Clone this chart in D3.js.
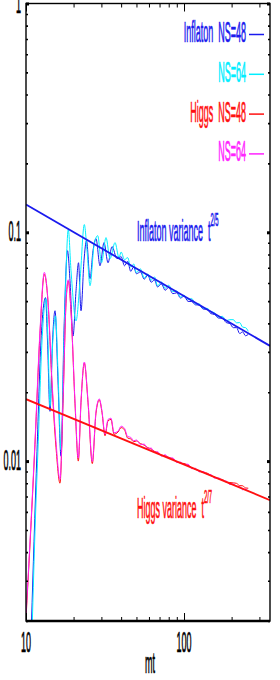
<!DOCTYPE html>
<html>
<head>
<meta charset="utf-8">
<script src="https://cdn.jsdelivr.net/npm/d3@7"></script>
<style>
  body { margin: 0; background: #fff; }
  text { font-family: "Liberation Sans", Arial, sans-serif; }
</style>
</head>
<body>
<div class="chart-container"></div>
<script>
// early oscillations
const tInf48Early = [10.83, 11.24, 11.74, 12.44, 13.29, 13.68, 14.19, 14.72, 15.26, 15.94, 16.65, 17.40, 18.31, 18.99, 19.84, 20.73, 21.49, 22.29, 23.28, 24.15, 25.42, 26.55, 27.73, 29.40, 31.16, 33.04, 35.03, 37.66];
const vInf48Early = [0.00196, 0.00444, 0.0110, 0.0335, 0.0518, 0.0335, 0.0165, 0.0335, 0.0454, 0.0224, 0.0105, 0.0371, 0.0831, 0.0614, 0.0352, 0.0555, 0.0736, 0.0454, 0.0751, 0.0920, 0.0627, 0.0831, 0.0938, 0.0714, 0.0901, 0.0736, 0.0866, 0.0767];
const tInf64Early = [10.96, 11.40, 11.96, 12.63, 13.39, 13.78, 14.19, 14.72, 15.37, 15.94, 16.65, 17.53, 18.52, 19.27, 20.73, 21.97, 23.39, 24.33, 25.42, 26.94, 28.43, 30.05, 32.09, 34.02, 36.59, 38.77];
const vInf64Early = [0.00196, 0.00492, 0.0122, 0.0335, 0.0512, 0.0335, 0.0174, 0.0318, 0.0431, 0.0247, 0.0112, 0.0410, 0.1028, 0.0679, 0.0410, 0.0614, 0.1081, 0.0831, 0.0584, 0.0875, 0.0967, 0.0736, 0.0948, 0.0767, 0.0901, 0.0775];
const tHiggsEarly = [10, 10.6, 11.4, 12.26, 13.06, 13.78, 14.61, 15.48, 16.41, 17.15, 17.92, 18.52, 19.27, 20.42, 21.43, 22.29, 23.39, 24.69, 26.28, 27.73, 29.10, 30.27, 31.62, 33.04, 34.51, 36.06, 38.22];
const vHiggs48Early = [0.00205, 0.00430, 0.0118, 0.0360, 0.0655, 0.0495, 0.0215, 0.0115, 0.00800, 0.0178, 0.0490, 0.0612, 0.0448, 0.0178, 0.0100, 0.0180, 0.0268, 0.0180, 0.00975, 0.0162, 0.0185, 0.0163, 0.0129, 0.0150, 0.0152, 0.0131, 0.0134];
const vHiggs64Early = [0.00213, 0.00444, 0.0122, 0.0371, 0.0668, 0.0502, 0.0224, 0.0122, 0.00831, 0.0183, 0.0502, 0.0620, 0.0454, 0.0183, 0.0103, 0.0183, 0.0271, 0.0183, 0.00997, 0.0165, 0.0187, 0.0165, 0.0131, 0.0152, 0.0154, 0.0133, 0.0135];

// late times, shared time grid
const tLate = [40, 42, 44, 46, 48, 50, 53, 56, 59, 62, 65, 68, 72, 76, 80, 85, 90, 95, 100, 106, 112, 118, 125, 132, 140, 148, 156, 165, 175, 185, 195, 205, 215, 225, 235, 245, 255];
const vInf48Late = [0.0782, 0.0714, 0.0746, 0.0675, 0.0706, 0.0659, 0.0671, 0.0624, 0.0650, 0.0605, 0.0619, 0.0577, 0.0594, 0.0558, 0.0575, 0.0539, 0.0544, 0.0516, 0.0526, 0.0499, 0.0498, 0.0482, 0.0481, 0.0462, 0.0460, 0.0441, 0.0437, 0.0422, 0.0421, 0.0403, 0.0399, 0.0383, 0.0383, 0.0361, 0.0367, 0.0353, 0.0358];
const vInf64Late = [0.0820, 0.0759, 0.0775, 0.0704, 0.0727, 0.0666, 0.0692, 0.0631, 0.0657, 0.0618, 0.0638, 0.0583, 0.0606, 0.0569, 0.0587, 0.0550, 0.0554, 0.0521, 0.0531, 0.0509, 0.0513, 0.0487, 0.0486, 0.0466, 0.0465, 0.0450, 0.0445, 0.0427, 0.0429, 0.0411, 0.0415, 0.0415, 0.0402, 0.0403, 0.0385, 0.0383, 0.0369];
const vHiggs48Late = [0.0140, 0.0137, 0.0126, 0.0125, 0.01215, 0.01224, 0.01193, 0.01174, 0.01145, 0.01129, 0.01103, 0.01089, 0.01061, 0.01055, 0.01040, 0.01022, 0.00995, 0.00980, 0.00976, 0.00960, 0.00935, 0.00921, 0.00906, 0.00892, 0.00886, 0.00864, 0.00851, 0.00837, 0.00831, 0.00810, 0.00806, 0.00803, 0.00799, 0.00781, 0.00780, 0.00763, 0.00761];
const vHiggs64Late = [0.0142, 0.0139, 0.0128, 0.0127, 0.01227, 0.01236, 0.01181, 0.01186, 0.01134, 0.01140, 0.01092, 0.01100, 0.01050, 0.01066, 0.01030, 0.01032, 0.00985, 0.00990, 0.00966, 0.00969, 0.00926, 0.00930, 0.00897, 0.00901, 0.00877, 0.00873, 0.00842, 0.00845, 0.00823, 0.00818, 0.00790, 0.00795, 0.00776, 0.00774, 0.00749, 0.00755, 0.00739];

// power law fits  v = amp * t^expo
const fitInflaton = {amp: 0.332, expo: -2 / 5};
const fitHiggs = {amp: 0.036, expo: -2 / 7};
const fitRange = [10, 350];

const xMajor = [10, 100];
const yMajor = [1, 0.1, 0.01];

const blue = "#1a1aee", cyan = "#00eeff", red = "#ff1010", magenta = "#ff22ff";

const series = [
  {label: "Inflaton  NS=48", color: blue, t: tInf48Early.concat(tLate), v: vInf48Early.concat(vInf48Late)},
  {label: "NS=64", color: cyan, t: tInf64Early.concat(tLate), v: vInf64Early.concat(vInf64Late)},
  {label: "Higgs  NS=48", color: red, t: tHiggsEarly.concat(tLate), v: vHiggs48Early.concat(vHiggs48Late)},
  {label: "NS=64", color: magenta, t: tHiggsEarly.concat(tLate), v: vHiggs64Early.concat(vHiggs64Late)}
];

const width = 280, height = 680;
const plotLeft = 26, plotRight = 270, plotTop = 3.5, plotBottom = 621;
const sq = 0.31;      // gnuplot text is very narrow here
const fs = 29;

const x = d3.scaleLog().domain([10, 350]).range([plotLeft, plotRight]);
const y = d3.scaleLog().domain([0.002, 1]).range([plotBottom, plotTop]);

const svg = d3.select(".chart-container")
  .append("svg")
  .attr("width", width)
  .attr("height", height);

svg.append("clipPath").attr("id", "plotClip")
  .append("rect")
  .attr("x", plotLeft).attr("y", plotTop)
  .attr("width", plotRight - plotLeft).attr("height", plotBottom - plotTop);

function squeezed(g, px, py, str, anchor, color) {
  return g.append("text")
    .attr("transform", `translate(${px},${py}) scale(${sq},1)`)
    .attr("text-anchor", anchor)
    .attr("fill", color)
    .attr("stroke", color)
    .attr("stroke-width", 0.7)
    .style("font-size", fs + "px")
    .style("white-space", "pre")
    .text(str);
}

// data curves
const line = d3.line()
  .x(d => x(d[0]))
  .y(d => y(d[1]))
  .curve(d3.curveMonotoneX);

const plot = svg.append("g").attr("clip-path", "url(#plotClip)");

plot.selectAll("path.series")
  .data(series)
  .enter().append("path")
  .attr("class", "series")
  .attr("fill", "none")
  .attr("stroke", d => d.color)
  .attr("stroke-width", 1)
  .attr("d", d => line(d.t.map((t, i) => [t, d.v[i]])));

// fit lines
[[fitInflaton, blue], [fitHiggs, red]].forEach(([f, c]) => {
  plot.append("path")
    .attr("fill", "none")
    .attr("stroke", c)
    .attr("stroke-width", 1.8)
    .attr("d", d3.line().x(t => x(t)).y(t => y(f.amp * Math.pow(t, f.expo)))(fitRange));
});

// axes: ticks inside on all four sides
const xMinor = x.ticks().filter(t => !xMajor.includes(t));
const yMinor = y.ticks().filter(v => !yMajor.some(m => Math.abs(m - v) < 1e-9));

function tickAxis(axisFn, scale, values, size, translate, sw) {
  const g = svg.append("g")
    .attr("transform", translate)
    .call(axisFn(scale).tickValues(values).tickSize(-size).tickSizeOuter(0).tickFormat(""));
  g.select(".domain").remove();
  g.selectAll("line").attr("stroke", "#000").attr("stroke-width", sw);
  return g;
}

tickAxis(d3.axisBottom, x, xMinor, 4, `translate(0,${plotBottom})`, 1);
tickAxis(d3.axisBottom, x, xMajor, 8, `translate(0,${plotBottom})`, 1);
tickAxis(d3.axisTop, x, xMinor, 4, `translate(0,${plotTop})`, 1);
tickAxis(d3.axisTop, x, xMajor, 8, `translate(0,${plotTop})`, 1);
tickAxis(d3.axisLeft, y, yMinor, 2, `translate(${plotLeft},0)`, 1.6);
tickAxis(d3.axisLeft, y, yMajor, 3, `translate(${plotLeft},0)`, 3);
tickAxis(d3.axisRight, y, yMinor, 2, `translate(${plotRight},0)`, 1.6);
tickAxis(d3.axisRight, y, yMajor, 3, `translate(${plotRight},0)`, 3);

// frame
svg.append("rect")
  .attr("x", plotLeft).attr("y", plotTop)
  .attr("width", plotRight - plotLeft).attr("height", plotBottom - plotTop)
  .attr("fill", "none")
  .attr("stroke", "#000")
  .attr("stroke-width", 1.4);
svg.append("line")
  .attr("x1", plotLeft).attr("x2", plotRight)
  .attr("y1", plotBottom).attr("y2", plotBottom)
  .attr("stroke", "#000").attr("stroke-width", 2.6);

// tick labels
xMajor.forEach(t => squeezed(svg, x(t), 652, String(t), "middle", "#000"));
yMajor.forEach(v => squeezed(svg, 21, y(v) + 9, String(v), "end", "#000"));
squeezed(svg, 150, 673, "mt", "middle", "#000");

// key
series.forEach((s, i) => {
  const ky = 34.5 + i * 39.8;
  squeezed(svg, 246, ky + 7.5, s.label, "end", s.color);
  svg.append("line")
    .attr("x1", 249).attr("x2", 264)
    .attr("y1", ky).attr("y2", ky)
    .attr("stroke", s.color).attr("stroke-width", 1.5);
});

// fit labels
function fitLabel(px, py, str, sup, color) {
  const t = squeezed(svg, px, py, str, "start", color);
  t.append("tspan")
    .attr("dy", -15)
    .style("font-size", "19px")
    .text(sup);
}
fitLabel(137, 241, "Inflaton variance  t", "2/5", blue);
fitLabel(137, 518, "Higgs variance  t", "2/7", red);
</script>
</body>
</html>
